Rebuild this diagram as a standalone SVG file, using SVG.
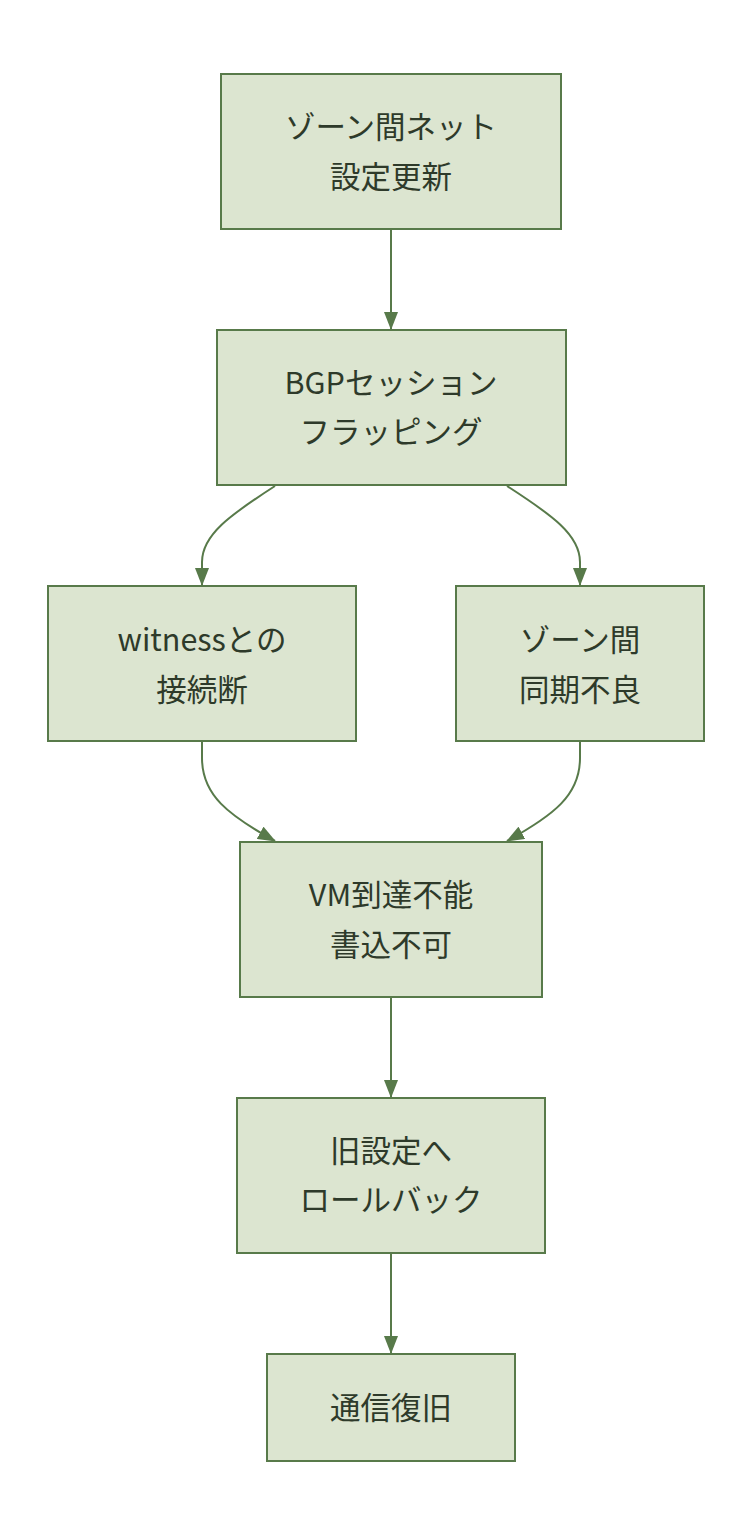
<svg xmlns="http://www.w3.org/2000/svg" width="752" height="1540" viewBox="0 0 752 1540">
<style>
.n rect{fill:#dce5d0;stroke:#587a4a;stroke-width:2}
.n text{font-family:"Noto Sans CJK JP","Noto Sans",sans-serif;font-size:30.5px;fill:#2e3a2a;text-anchor:middle}
.e path{fill:none;stroke:#587a4a;stroke-width:2}
</style>
<defs>
<marker id="ah" markerWidth="18" markerHeight="14" refX="17" refY="7" orient="auto" markerUnits="userSpaceOnUse">
<path d="M0,0 L18,7 L0,14 Z" fill="#587a4a"/>
</marker>
</defs>
<rect width="752" height="1540" fill="#ffffff"/>
<g class="e">
<path d="M391,230 L391,329" marker-end="url(#ah)"/>
<path d="M275,486 C230,515 202,535 202,562 L202,585" marker-end="url(#ah)"/>
<path d="M507,486 C552,515 580,535 580,562 L580,585" marker-end="url(#ah)"/>
<path d="M202,742 L202,758 C202,795 228,815 275,841" marker-end="url(#ah)"/>
<path d="M580,742 L580,758 C580,795 554,815 507,841" marker-end="url(#ah)"/>
<path d="M391,998 L391,1097" marker-end="url(#ah)"/>
<path d="M391,1254 L391,1353" marker-end="url(#ah)"/>
</g>
<g id="n1" class="n"><rect x="221" y="74" width="340" height="155"/><text x="391" y="138">ゾーン間ネット</text><text x="391" y="188">設定更新</text></g>
<g id="n2" class="n"><rect x="217" y="330" width="349" height="155"/><text x="391" y="394">BGPセッション</text><text x="391" y="443">フラッピング</text></g>
<g id="n3" class="n"><rect x="48" y="586" width="308" height="155"/><text x="202" y="651">witnessとの</text><text x="202" y="701">接続断</text></g>
<g id="n4" class="n"><rect x="456" y="586" width="248" height="155"/><text x="580" y="651">ゾーン間</text><text x="580" y="701">同期不良</text></g>
<g id="n5" class="n"><rect x="240" y="842" width="302" height="155"/><text x="391" y="906">VM到達不能</text><text x="391" y="956">書込不可</text></g>
<g id="n6" class="n"><rect x="237" y="1098" width="308" height="155"/><text x="391" y="1162">旧設定へ</text><text x="391" y="1211">ロールバック</text></g>
<g id="n7" class="n"><rect x="267" y="1354" width="248" height="107"/><text x="391" y="1419">通信復旧</text></g>
</svg>
